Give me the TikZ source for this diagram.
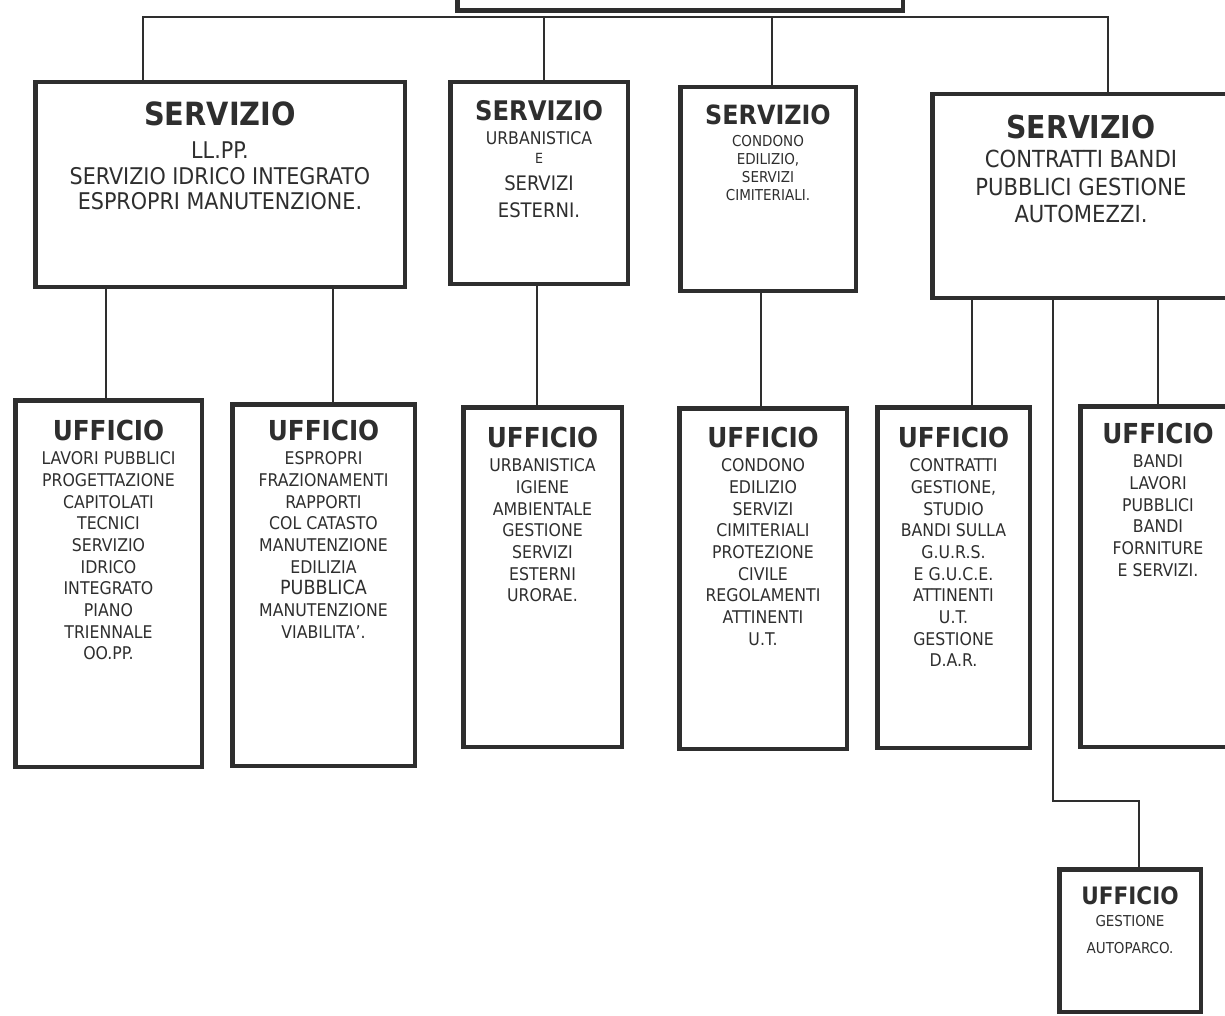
\documentclass[tikz,border=0pt]{standalone}
\usepackage{fontspec}
\setmainfont{DejaVu Sans Condensed}
\definecolor{ink}{HTML}{2E2E2E}
\newcommand{\fsz}[2]{\fontsize{#1}{#2}\selectfont}

\tikzset{
  box/.style={draw=ink,line width=4.5pt,rectangle,inner sep=0pt},
  link/.style={draw=ink,line width=2pt},
  txt/.style={anchor=north,align=center,inner sep=0pt,text=ink},
  uff/.style={txt,font=\fsz{17.5}{21.7}},
}

\begin{document}
\begin{tikzpicture}[x=1pt,y=-1pt]
            \useasboundingbox (0,0) rectangle (1225,1016);
            \clip (0,0) rectangle (1225,1016);
            \node[box,minimum width=445.5,minimum height=80] (T) at (680,-29.25) {};
            \node[box,minimum width=369.5,minimum height=204.5] (S1) at (220,184.5) {};
            \node[box,minimum width=177.5,minimum height=201.5] (S2) at (539,183) {};
            \node[box,minimum width=175.5,minimum height=203.5] (S3) at (768,189) {};
            \node[box,minimum width=297.5,minimum height=203.5] (S4) at (1081,196) {};
            \node[box,minimum width=186.5,minimum height=366.5] (U1) at (108.5,583.5) {};
            \node[box,minimum width=182.5,minimum height=361.5] (U2) at (323.5,585) {};
            \node[box,minimum width=158.5,minimum height=339.5] (U3) at (542.5,577) {};
            \node[box,minimum width=167.5,minimum height=340.5] (U4) at (763,578.5) {};
            \node[box,minimum width=152.5,minimum height=340.5] (U5) at (953.5,577.5) {};
            \node[box,minimum width=155.5,minimum height=340.5] (U6) at (1158,576.5) {};
            \node[box,minimum width=141.5,minimum height=142.5] (U7) at (1130,940.5) {};

            \node[txt,font=\fsz{23}{25.5}] (S1t) at ([yshift=-21.2pt]S1.north)
              {{\fsz{32}{32}\bfseries SERVIZIO}\\[8.1pt] LL.PP.\\ SERVIZIO IDRICO INTEGRATO\\ ESPROPRI MANUTENZIONE.};
            \node[txt,font=\fsz{17.5}{27}] (S2t) at ([yshift=-20pt]S2.north)
              {{\fsz{27}{27}\bfseries SERVIZIO}\\[-2.3pt] URBANISTICA\\[-8.8pt] {\fsz{14}{14}E}\\[0.6pt] {\fsz{20}{20}SERVIZI}\\ {\fsz{20}{20}ESTERNI.}};
            \node[txt,font=\fsz{15}{18}] (S3t) at ([yshift=-20pt]S3.north)
              {{\fsz{26.5}{26.5}\bfseries SERVIZIO}\\[3.5pt] CONDONO\\ EDILIZIO,\\ SERVIZI\\ CIMITERIALI.};
            \node[txt,font=\fsz{23.5}{27.5}] (S4t) at ([yshift=-23pt]S4.north)
              {{\fsz{31.5}{31.5}\bfseries SERVIZIO}\\[1.5pt] CONTRATTI BANDI\\ PUBBLICI GESTIONE\\ AUTOMEZZI.};

            \node[uff] (U1t) at ([yshift=-21.8pt]U1.north)
              {{\fsz{27.5}{27.5}\bfseries UFFICIO}\\[2.5pt] LAVORI PUBBLICI\\ PROGETTAZIONE\\ CAPITOLATI\\ TECNICI\\ SERVIZIO\\ IDRICO\\ INTEGRATO\\ PIANO\\ TRIENNALE\\ OO.PP.};
            \node[uff] (U2t) at ([yshift=-17.8pt]U2.north)
              {{\fsz{27.5}{27.5}\bfseries UFFICIO}\\[2.5pt] ESPROPRI\\ FRAZIONAMENTI\\ RAPPORTI\\ COL CATASTO\\ MANUTENZIONE\\ EDILIZIA\\ {\fsz{19.5}{19.5}PUBBLICA}\\ MANUTENZIONE\\ VIABILITA'.};
            \node[uff] (U3t) at ([yshift=-21.8pt]U3.north)
              {{\fsz{27.5}{27.5}\bfseries UFFICIO}\\[2.5pt] URBANISTICA\\ IGIENE\\ AMBIENTALE\\ GESTIONE\\ SERVIZI\\ ESTERNI\\ URORAE.};
            \node[uff] (U4t) at ([yshift=-20.8pt]U4.north)
              {{\fsz{27.5}{27.5}\bfseries UFFICIO}\\[2.5pt] CONDONO\\ EDILIZIO\\ SERVIZI\\ CIMITERIALI\\ PROTEZIONE\\ CIVILE\\ REGOLAMENTI\\ ATTINENTI\\ U.T.};
            \node[uff] (U5t) at ([yshift=-21.8pt]U5.north)
              {{\fsz{27.5}{27.5}\bfseries UFFICIO}\\[2.5pt] CONTRATTI\\ GESTIONE,\\ STUDIO\\ BANDI SULLA\\ G.U.R.S.\\ E G.U.C.E.\\ ATTINENTI\\ U.T.\\ GESTIONE\\ D.A.R.};
            \node[uff] (U6t) at ([yshift=-18.8pt]U6.north)
              {{\fsz{27.5}{27.5}\bfseries UFFICIO}\\[2.5pt] BANDI\\ LAVORI\\ PUBBLICI\\ BANDI\\ FORNITURE\\ E SERVIZI.};
            \node[txt,font=\fsz{15}{27}] (U7t) at ([yshift=-19pt]U7.north)
              {{\fsz{24}{24}\bfseries UFFICIO}\\[-5pt] GESTIONE\\ AUTOPARCO.};

            \coordinate (bus) at (0,17);
            \coordinate (bend) at (0,801);
            \coordinate (s1in) at ([xshift=-77pt]S1.north);
            \coordinate (s2in) at ([xshift=5pt]S2.north);
            \coordinate (s3in) at ([xshift=4pt]S3.north);
            \coordinate (s4in) at ([xshift=27pt]S4.north);
            \coordinate (u1in) at ([xshift=-2.5pt]U1.north);
            \coordinate (u2in) at ([xshift=9.5pt]U2.north);
            \coordinate (u3in) at ([xshift=-5.5pt]U3.north);
            \coordinate (u4in) at ([xshift=-2pt]U4.north);
            \coordinate (u5in) at ([xshift=18.5pt]U5.north);
            \coordinate (u6in) at (U6.north);
            \coordinate (u7in) at ([xshift=9pt]U7.north);
            \coordinate (u7out) at ([xshift=-28pt]S4.south);

            \draw[link] (s1in) |- (s4in |- bus) -- (s4in);
            \draw[link] (s2in) -- (s2in |- bus);
            \draw[link] (s3in) -- (s3in |- bus);
            \draw[link] (u1in) -- (u1in |- S1.south);
            \draw[link] (u2in) -- (u2in |- S1.south);
            \draw[link] (u3in) -- (u3in |- S2.south);
            \draw[link] (u4in) -- (u4in |- S3.south);
            \draw[link] (u5in) -- (u5in |- S4.south);
            \draw[link] (u6in) -- (u6in |- S4.south);
            \draw[link] (u7out) |- (u7in |- bend) -- (u7in);
\end{tikzpicture}
\end{document}
